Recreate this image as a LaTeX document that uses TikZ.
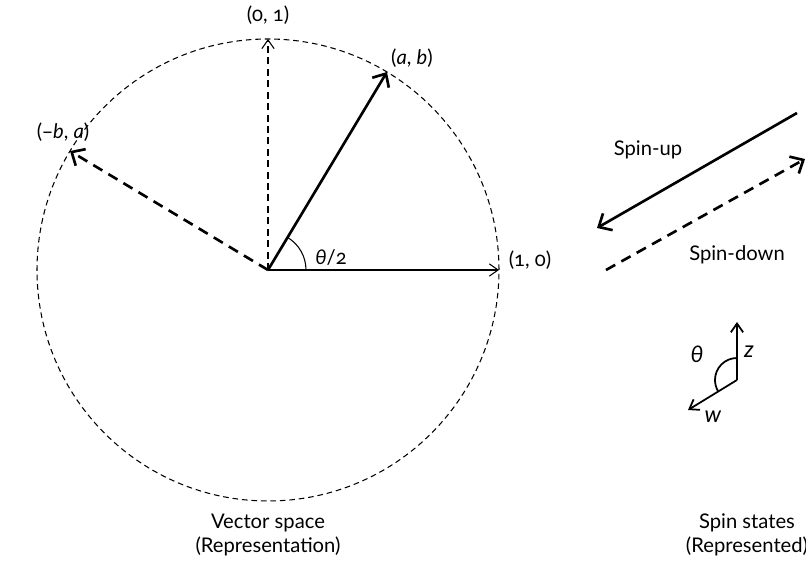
\documentclass[tikz,border=0pt]{standalone}
\usepackage{fontspec}
\setmainfont{Lato}[Numbers=OldStyle]
\usetikzlibrary{arrows.meta}

\tikzset{
  thinvec/.style={line width=0.6pt,-{Straight Barb[length=5pt,width=7pt]}},
  bigvec/.style={line width=1.5pt,-{Straight Barb[length=6pt,width=11pt]}},
  dashvec/.style={dash pattern=on 6pt off 4pt},
  lbl/.style={font=\fontsize{11.5}{14}\selectfont,inner sep=1pt},
}

\begin{document}
\begin{tikzpicture}[x=0.02cm,y=0.02cm]
\useasboundingbox (0,0) rectangle (806,564);

% vector space
\coordinate (O) at (268,294);
\draw[line width=0.6pt,dash pattern=on 3.2pt off 2.2pt] (O) circle (231);
\coordinate (e1) at ([shift={(0:231)}]O);
\coordinate (e2) at ([shift={(90:231)}]O);
\coordinate (ab) at ([shift={(59:231)}]O);
\coordinate (nb) at ([shift={(149:231)}]O);

\draw[thinvec] (O) -- (e1);
\draw[thinvec,dash pattern=on 4pt off 2.5pt] (O) -- (e2);
\draw[bigvec] (O) -- (ab);
\draw[bigvec,dashvec] (O) -- (nb);
\draw[line width=0.6pt] ([shift={(0:38)}]O) arc (0:59:38);

\node[lbl] (l10) at (530,304) {(1, 0)};
\node[lbl] (l01) at (268,549) {(0, 1)};
\node[lbl] (lab) at (412,506) {(\textit{a}, \textit{b})};
\node[lbl] (lnb) at (63,432) {(−\textit{b}, \textit{a})};
\node[lbl] (lhalf) at (331,306) {\textit{θ}/2};

% spin states
\coordinate (up1) at (797,451);
\coordinate (up2) at (597,336);
\coordinate (dn1) at (606,294);
\coordinate (dn2) at (805,405);
\draw[bigvec] (up1) -- (up2);
\draw[bigvec,dashvec] (dn1) -- (dn2);
\node[lbl] (lup) at (648,414) {Spin-up};
\node[lbl] (ldn) at (737,309) {Spin-down};

% small axes
\coordinate (C) at (737,184);
\coordinate (zt) at (737,242);
\coordinate (wt) at (688,154);
\draw[thinvec,line width=1pt] (C) -- (zt);
\draw[thinvec,line width=1pt] (C) -- (wt);
\draw[line width=1pt] ([shift={(90:22)}]C) arc (90:211:22);
\node[lbl,font=\fontsize{13}{15}\selectfont] (lz) at (749,212) {\textit{z}};
\node[lbl,font=\fontsize{13}{15}\selectfont] (lw) at (713,147) {\textit{w}};
\node[lbl,font=\fontsize{13}{15}\selectfont] (lth) at (697,210) {\textit{θ}};

% captions
\node[lbl,align=center] (cap1) at (268,29) {Vector space\\(Representation)};
\node[lbl,align=center] (cap2) at (747,29) {Spin states\\(Represented)};
\end{tikzpicture}
\end{document}
